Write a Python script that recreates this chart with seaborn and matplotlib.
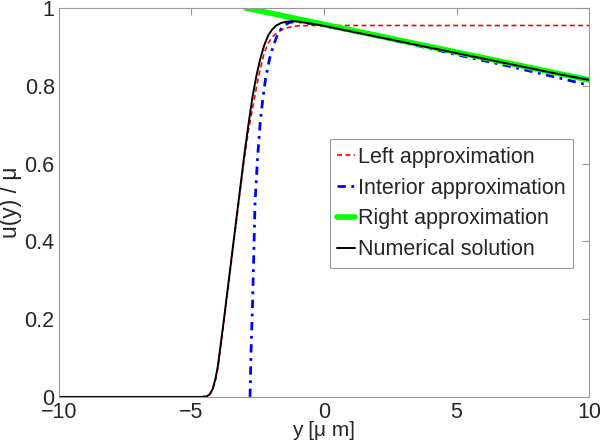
import matplotlib
matplotlib.use("Agg")
import matplotlib.pyplot as plt
import seaborn as sns
from matplotlib.ticker import FormatStrFormatter

# values
num_x = [-10, -4.6, -4.4, -4.3, -4.2, -4.1, -4.0, -3.8, -3.6, -3.4, -3.2, -3.0, -2.85,
         -2.7, -2.55, -2.4, -2.25, -2.1, -1.95, -1.8, -1.6, -1.4, -1.2, -1.0, -0.7,
         -0.4, 0, 1, 2, 3, 4, 5, 6, 7, 8, 9, 10]
num_y = [0, 0, 0.002, 0.008, 0.02, 0.045, 0.08, 0.185, 0.295, 0.405, 0.515, 0.625, 0.70,
         0.77, 0.825, 0.87, 0.905, 0.93, 0.945, 0.955, 0.962, 0.965, 0.966, 0.965, 0.962,
         0.959, 0.954, 0.94, 0.926, 0.912, 0.898, 0.884, 0.87, 0.856, 0.842, 0.828, 0.815]

left_x = [-10, -4.6, -4.4, -4.3, -4.2, -4.1, -4.0, -3.8, -3.6, -3.4, -3.2, -3.0, -2.85,
          -2.7, -2.55, -2.4, -2.25, -2.1, -1.95, -1.8, -1.6, -1.4, -1.2, -1.0, -0.5, 0, 10]
left_y = [0, 0, 0.002, 0.007, 0.018, 0.04, 0.075, 0.18, 0.29, 0.40, 0.51, 0.615, 0.685,
          0.74, 0.795, 0.845, 0.885, 0.91, 0.925, 0.935, 0.944, 0.949, 0.952, 0.954, 0.955,
          0.955, 0.955]

int_x = [-2.79, -2.75, -2.69, -2.6, -2.5, -2.4, -2.3, -2.2, -2.05, -1.9, -1.75, -1.55,
         -1.3, -1.0, -0.7, 0, 1, 2, 3, 4, 5, 6, 7, 8, 9, 10]
int_y = [0.0, 0.12, 0.25, 0.5, 0.62, 0.71, 0.77, 0.82, 0.87, 0.905, 0.932, 0.953,
         0.963, 0.965, 0.962, 0.954, 0.94, 0.926, 0.911, 0.896, 0.88, 0.865, 0.85, 0.834,
         0.818, 0.801]

right_x = [-2.95, 10]
right_y = [1.0, 0.815]

labels = ["Left approximation", "Interior approximation", "Right approximation",
          "Numerical solution"]

sns.set_style("white")
plt.rcParams["font.family"] = ["Liberation Sans", "DejaVu Sans"]

fig = plt.figure(figsize=(6, 4.44), dpi=100)
ax = fig.add_axes([0.098, 0.106, 0.884, 0.876])

sns.lineplot(x=left_x, y=left_y, ax=ax, color="red", lw=1.2, label=labels[0],
             linestyle=(0, (3, 2)), estimator=None)
sns.lineplot(x=int_x, y=int_y, ax=ax, color="blue", lw=2, label=labels[1],
             linestyle=(0, (3, 2, 1, 2)), estimator=None)
sns.lineplot(x=right_x, y=right_y, ax=ax, color="#00ff00", lw=4, label=labels[2],
             estimator=None)
sns.lineplot(x=num_x, y=num_y, ax=ax, color="black", lw=1.4, label=labels[3],
             estimator=None)

ax.set_xlim(-10, 10)
ax.set_ylim(0, 1)
ax.set_xticks([-10, -5, 0, 5, 10])
ax.set_yticks([0, 0.2, 0.4, 0.6, 0.8, 1])
ax.yaxis.set_major_formatter(FormatStrFormatter("%g"))
ax.tick_params(direction="in", length=5, width=0.8, color="#999999", labelsize=15.5,
               top=True, right=True)
ax.tick_params(axis="x", pad=3.5)
ax.tick_params(axis="y", pad=3)
for sp in ax.spines.values():
    sp.set_color("#999999")
    sp.set_linewidth(0.8)

ax.set_xlabel("y [μ m]", fontsize=15, labelpad=-1)
ax.set_ylabel("u(y) / μ", fontsize=16.5, labelpad=2)

leg = ax.legend(loc="upper left", bbox_to_anchor=(0.511, 0.663), fontsize=15.5,
                handlelength=0.8, handletextpad=0.15, borderpad=0.35, labelspacing=0.46,
                fancybox=False, framealpha=1, borderaxespad=0)
leg.get_frame().set_edgecolor("#999999")
leg.get_frame().set_linewidth(0.8)

fig.savefig("out.png", dpi=100)
